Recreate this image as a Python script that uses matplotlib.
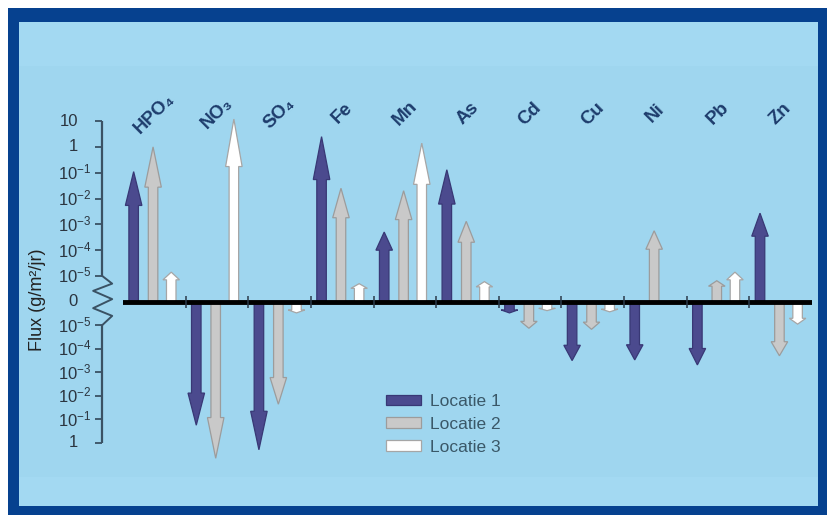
import numpy as np
import matplotlib
matplotlib.use("Agg")
import matplotlib.pyplot as plt
from matplotlib.patches import Rectangle, Polygon, Patch
from matplotlib.transforms import offset_copy
from matplotlib.ticker import NullLocator

plt.rcParams['font.family'] = ['Liberation Sans', 'DejaVu Sans']
plt.rcParams['mathtext.fontset'] = 'custom'
plt.rcParams['mathtext.rm'] = 'Liberation Sans'
plt.rcParams['mathtext.it'] = 'Liberation Sans:italic'
plt.rcParams['mathtext.bf'] = 'Liberation Sans:bold'

# ---------------- data (flux g/m2/jr, positive = upward, negative = downward)
categories = ['HPO₄', 'NO₃', 'SO₄', 'Fe', 'Mn', 'As', 'Cd', 'Cu', 'Ni', 'Pb', 'Zn']
locatie1 = [0.11, -0.18, -2.0, 2.5, 5e-4, 0.13, -3e-6, -3.2e-4, -3e-4, -4.9e-4, 2.7e-3]
locatie2 = [1.0, -4.6, -0.023, 0.025, 0.02, 1.3e-3, -1.35e-5, -1.5e-5, 5.6e-4, 6.5e-6, -2e-4]
locatie3 = [1.4e-5, 12.0, -3e-6, 5e-6, 1.4, 6e-6, -2.4e-6, -2.7e-6, np.nan, 1.4e-5, -9e-6]
series_names = ['Locatie 1', 'Locatie 2', 'Locatie 3']
tick_values = [10, 1, 1e-1, 1e-2, 1e-3, 1e-4, 1e-5, 0,
               -1e-5, -1e-4, -1e-3, -1e-2, -1e-1, -1]
tick_labels = ['10', '1', r'10$^{-1}$', r'10$^{-2}$', r'10$^{-3}$', r'10$^{-4}$', r'10$^{-5}$', '0',
               r'10$^{-5}$', r'10$^{-4}$', r'10$^{-3}$', r'10$^{-2}$', r'10$^{-1}$', '1']
ylabel = 'Flux (g/m²/jr)'

# ---------------- styles
fills = ['#4b4a8e', '#c9c9c9', '#ffffff']
edges = ['#383875', '#9c9c9c', '#a6a6a6']
offsets = [-0.33, -0.02, 0.27]
axis_col = '#3a5264'
label_col = '#1d3c6c'

K = 23.5 / 25.8   # lower half is slightly compressed


def fwd(v):
    v = np.asarray(v, dtype=float)
    a = np.abs(v)
    with np.errstate(divide='ignore', invalid='ignore'):
        lvl = np.clip(np.log10(np.where(a > 0, a, 1e-12)) + 6.0, 0, None)
    return np.where(v > 0, lvl, np.where(v < 0, -K * lvl, 0.0))


def inv(s):
    s = np.asarray(s, dtype=float)
    with np.errstate(over='ignore'):
        up = 10.0 ** (np.clip(s, -50, 50) - 6.0)
        dn = -10.0 ** (np.clip(-s / K, -50, 50) - 6.0)
    return np.where(s > 0, up, np.where(s < 0, dn, 0.0))


W, H = 835, 519
fig = plt.figure(figsize=(W / 100, H / 100), dpi=100)
fig.patch.set_facecolor('white')


def fr(x0, y0, x1, y1, color, z):
    fig.add_artist(Rectangle((x0 / W, 1 - y1 / H), (x1 - x0) / W, (y1 - y0) / H,
                             transform=fig.transFigure, facecolor=color,
                             edgecolor='none', zorder=z))


fr(8, 8, 827, 515, '#06418f', -10)
fr(19, 22, 818, 506, '#a3d9f2', -9)
fr(19, 66, 818, 477, '#9fd6ef', -8)

ax = fig.add_axes([123 / W, (H - 470) / H, 689 / W, 360 / H])
ax.patch.set_alpha(0)
ax.set_yscale('function', functions=(fwd, inv))
ax.set_xlim(0, 11)
ax.set_ylim(float(inv(-(470 - 301.7) / 25.8)), float(inv((301.7 - 110) / 25.8)))
for sp in ax.spines.values():
    sp.set_visible(False)
ax.spines['left'].set_position(('outward', 15))
nz_ticks = [t for t in tick_values if t != 0]
ax.set_yticks(nz_ticks)
ax.yaxis.set_minor_locator(NullLocator())
ax.tick_params(axis='y', direction='out', length=5, width=1.3, colors=axis_col,
               labelleft=False)
ax.tick_params(axis='x', bottom=False, labelbottom=False)
ax.set_xticks([])

# y axis line with break
spine_tr = ax.get_yaxis_transform(which='tick1')
ax.plot([0, 0], [1e-5, 10], transform=spine_tr, color=axis_col, lw=1.6,
        clip_on=False, solid_capstyle='butt')
ax.plot([0, 0], [-1e-5, -1], transform=spine_tr, color=axis_col, lw=1.6,
        clip_on=False, solid_capstyle='butt')
zig_x = np.array([0, 10, -9, 10, -9, 10, 0]) / 689.0
zig_s = [1.0, 0.7, 0.42, 0.1, -0.25, -0.55, -K]
ax.plot(zig_x, inv(zig_s), transform=spine_tr, color=axis_col, lw=1.4,
        clip_on=False)

# tick labels
tr_left = offset_copy(ax.get_yaxis_transform(), fig=fig, x=-65, y=0, units='dots')
tr_right = offset_copy(ax.get_yaxis_transform(), fig=fig, x=-45, y=0, units='dots')
for v, lab in zip(tick_values, tick_labels):
    if '$' in lab:
        ax.text(0, v, lab, transform=tr_left, ha='left', va='center',
                fontsize=12, color='#2b3540')
    else:
        ax.text(0, v, lab, transform=tr_right, ha='right', va='center',
                fontsize=12, color='#2b3540')

fig.text(38 / W, 1 - 300 / H, ylabel, rotation=90, ha='center', va='center',
         fontsize=13, color='#222222')

# zero line and boundary marks
ax.axhline(0, color='black', lw=3.5, zorder=3)
ax.plot(np.arange(1, 11), np.zeros(10), ls='none', marker='|', ms=8, mew=1.1,
        color='#2b3b4b', zorder=4)

# arrows
ytr = ax.yaxis.get_transform()
shaft = 9.5 / 62.5
headw = 16.5 / 62.5
for vals, fc, ec, off in zip([locatie1, locatie2, locatie3], fills, edges, offsets):
    for i, v in enumerate(vals):
        if v is None or np.isnan(v):
            continue
        x = i + 0.5 + off
        s = float(ytr.transform(np.array([v]))[0])
        sb = float(ytr.inverted().transform(np.array([0.74 * s]))[0])
        pts = [(x - shaft / 2, 0), (x - shaft / 2, sb), (x - headw / 2, sb), (x, v),
               (x + headw / 2, sb), (x + shaft / 2, sb), (x + shaft / 2, 0)]
        ax.add_patch(Polygon(pts, closed=True, facecolor=fc, edgecolor=ec,
                             lw=0.9, zorder=2, joinstyle='miter'))

# category labels
for i, c in enumerate(categories):
    ax.text(i + 0.5, 0.99, c, transform=ax.get_xaxis_transform(), rotation=45,
            ha='center', va='center', fontsize=13.5, fontweight='bold',
            color=label_col)

handles = [Patch(facecolor=f, edgecolor=e, lw=0.9) for f, e in zip(fills, edges)]
leg = fig.legend(handles, series_names, loc='upper left',
                 bbox_to_anchor=(386 / W, 1 - 394 / H), frameon=False, fontsize=12.5,
                 handlelength=2.0, handleheight=0.55, handletextpad=0.55,
                 labelspacing=0.45, borderpad=0, borderaxespad=0)
for t in leg.get_texts():
    t.set_color('#3a5868')

fig.savefig('out.png', dpi=100)
